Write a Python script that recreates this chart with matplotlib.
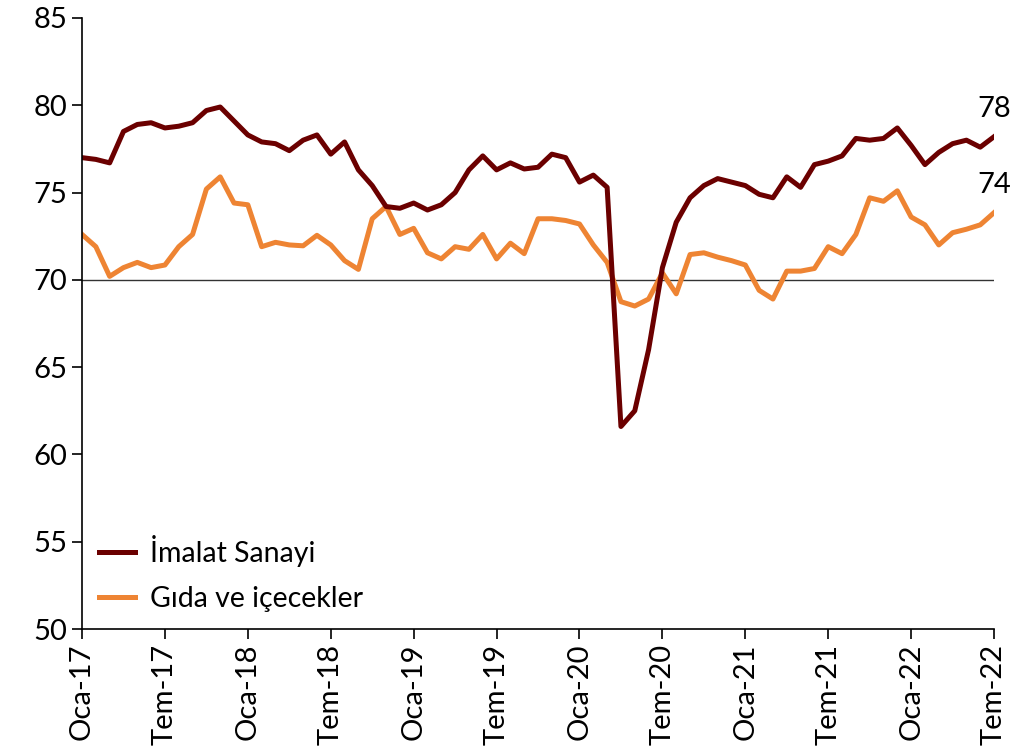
import numpy as np
import matplotlib
matplotlib.use('Agg')
import matplotlib.pyplot as plt

plt.rcParams['font.family'] = ['Lato', 'DejaVu Sans']

# monthly values, Oca-17 .. Tem-22
imalat = [77.0, 76.9, 76.7, 78.5, 78.9, 79.0, 78.7, 78.8, 79.0, 79.7,
          79.9, 79.1, 78.3, 77.9, 77.8, 77.4, 78.0, 78.3, 77.2, 77.9,
          76.3, 75.4, 74.2, 74.1, 74.4, 74.0, 74.3, 75.0, 76.3, 77.1,
          76.3, 76.7, 76.35, 76.45, 77.2, 77.0, 75.6, 76.0, 75.3, 61.6,
          62.5, 66.0, 70.7, 73.3, 74.7, 75.4, 75.8, 75.6, 75.4, 74.9,
          74.7, 75.9, 75.3, 76.6, 76.8, 77.1, 78.1, 78.0, 78.1, 78.7,
          77.7, 76.6, 77.3, 77.8, 78.0, 77.6, 78.2]
gida = [72.6, 71.9, 70.2, 70.7, 71.0, 70.7, 70.85, 71.9, 72.6, 75.2,
        75.9, 74.4, 74.3, 71.9, 72.15, 72.0, 71.95, 72.55, 72.0, 71.1,
        70.6, 73.5, 74.2, 72.6, 72.95, 71.55, 71.2, 71.9, 71.75, 72.6,
        71.2, 72.1, 71.5, 73.5, 73.5, 73.4, 73.2, 72.0, 71.0, 68.75,
        68.5, 68.9, 70.4, 69.2, 71.45, 71.55, 71.3, 71.1, 70.85, 69.4,
        68.9, 70.5, 70.5, 70.65, 71.9, 71.5, 72.6, 74.7, 74.5, 75.1,
        73.6, 73.15, 72.0, 72.7, 72.9, 73.15, 73.85]
tick_labels = ['Oca-17', 'Tem-17', 'Oca-18', 'Tem-18', 'Oca-19', 'Tem-19',
               'Oca-20', 'Tem-20', 'Oca-21', 'Tem-21', 'Oca-22', 'Tem-22']

x = np.arange(len(imalat))

fig = plt.figure(figsize=(10.33, 7.49), dpi=100)
ax = fig.add_axes([0.0794, 0.1602, 0.8829, 0.8158])

ax.axhline(70, color='#333333', lw=1.0, zorder=1)
ax.plot(x, imalat, color='#6B0000', lw=3.6, label='İmalat Sanayi', zorder=3)
ax.plot(x, gida, color='#EE8433', lw=3.6, label='Gıda ve içecekler', zorder=2)

ax.text(x[-1], imalat[-1] + 1.6, f'{imalat[-1]:.0f}', ha='center', va='center', fontsize=21)
ax.text(x[-1], gida[-1] + 1.6, f'{gida[-1]:.0f}', ha='center', va='center', fontsize=21)

ax.set_xlim(0, len(imalat) - 1)
ax.set_ylim(50, 85)
ax.set_yticks(range(50, 90, 5))
ax.set_xticks(x[::6])
ax.set_xticklabels(tick_labels, rotation=90)
ax.tick_params(axis='both', direction='out', length=7, width=1.2, labelsize=21)

for s in ['top', 'right']:
    ax.spines[s].set_visible(False)
for s in ['left', 'bottom']:
    ax.spines[s].set_linewidth(1.2)
    ax.spines[s].set_zorder(4)

ax.legend(loc='lower left', frameon=False, fontsize=20.5, handlelength=1.25,
          handletextpad=0.55, borderaxespad=0.2, labelspacing=0.65,
          bbox_to_anchor=(0.0, 0.0))

fig.savefig('out.png', dpi=100)
